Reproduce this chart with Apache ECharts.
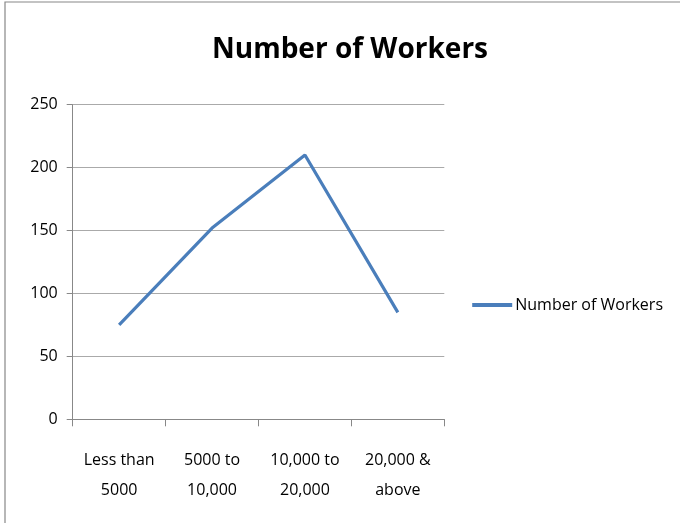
<!DOCTYPE html>
<html><head><meta charset="utf-8">
<script src="https://cdn.jsdelivr.net/npm/echarts@6/dist/echarts.min.js"></script>
<style>html,body{margin:0;padding:0;background:#fff}#c{width:680px;height:523px}</style>
</head><body><div id="c"></div>
<script>
const categories = ['Less than\n5000', '5000 to\n10,000', '10,000 to\n20,000', '20,000 &\nabove'];
const workers = [75, 152, 210, 85];
const seriesName = 'Number of Workers';
const FONT = '"Liberation Sans Narrow", "Open Sans", sans-serif';
const chart = echarts.init(document.getElementById('c'));
chart.setOption({
  animation: false,
  backgroundColor: '#fff',
  graphic: [{type: 'rect', shape: {x: 5, y: 2, width: 700, height: 540}, style: {fill: 'none', stroke: '#888', lineWidth: 1.2}, silent: true}],
  title: {text: 'Number of Workers', left: 345, top: 31, textAlign: 'center',
    textStyle: {fontFamily: FONT, fontSize: 28, fontWeight: 'bold', color: '#000'}},
  legend: {right: 12, top: 292, icon: 'rect', itemWidth: 40, itemHeight: 4, itemGap: 4,
    textStyle: {fontFamily: FONT, fontSize: 16, color: '#000', padding: [0,0,0,-2]},
    data: [{name: seriesName}]},
  grid: {left: 72.7, right: 235.7, top: 104.7, bottom: 103.7},
  xAxis: {type: 'category', data: categories, boundaryGap: true,
    axisLine: {lineStyle: {color: '#888', width: 1}},
    axisTick: {show: true, length: 7, lineStyle: {color: '#888'}},
    axisLabel: {fontFamily: FONT, fontSize: 16, color: '#000', margin: 26, lineHeight: 30}},
  yAxis: {type: 'value', min: 0, max: 250, interval: 50,
    axisLine: {show: true, lineStyle: {color: '#888', width: 1}},
    axisTick: {show: true, length: 6, lineStyle: {color: '#888'}},
    splitLine: {lineStyle: {color: '#aaa', width: 1.2}},
    axisLabel: {fontFamily: FONT, fontSize: 16, color: '#000', margin: 15}},
  series: [{name: seriesName, type: 'line', data: workers, symbol: 'none',
    lineStyle: {color: '#4a7ebb', width: 3.2}, itemStyle: {color: '#4a7ebb'}}]
});
</script></body></html>
